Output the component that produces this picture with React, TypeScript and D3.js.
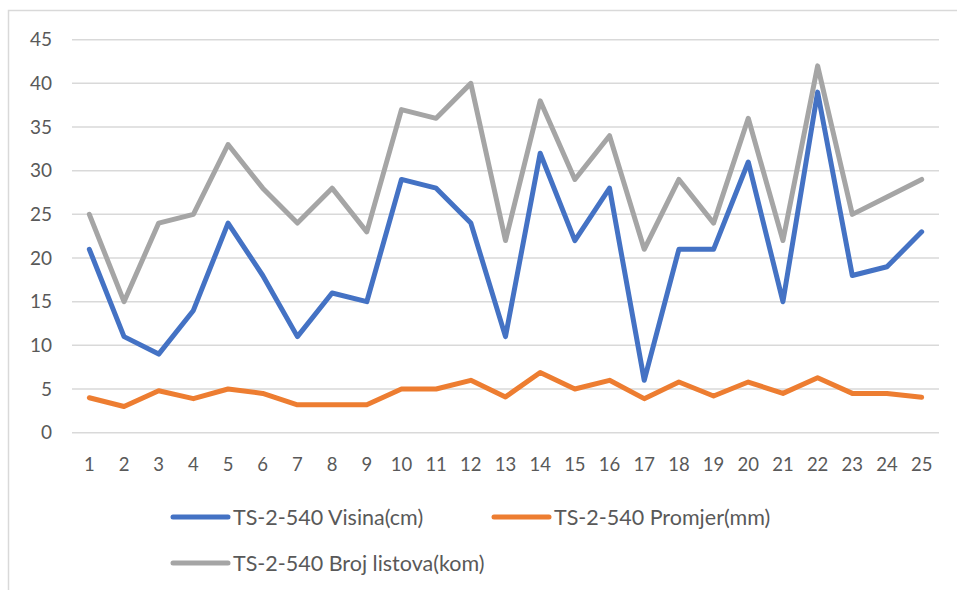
import { useEffect, useRef } from "react"
import * as d3 from "d3"

const categories = Array.from({ length: 25 }, (_, i) => String(i + 1))

const visina = [21, 11, 9, 14, 24, 18, 11, 16, 15, 29, 28, 24, 11, 32, 22, 28, 6, 21, 21, 31, 15, 39, 18, 19, 23]
const promjer = [4, 3, 4.8, 3.9, 5, 4.5, 3.2, 3.2, 3.2, 5, 5, 6, 4.1, 6.9, 5, 6, 3.9, 5.8, 4.2, 5.8, 4.5, 6.3, 4.5, 4.5, 4.05]
const brojListova = [25, 15, 24, 25, 33, 28, 24, 28, 23, 37, 36, 40, 22, 38, 29, 34, 21, 29, 24, 36, 22, 42, 25, 27, 29]

const yTicks = [0, 5, 10, 15, 20, 25, 30, 35, 40, 45]

const series = [
  { name: "TS-2-540 Visina(cm)", values: visina, color: "#4472c4" },
  { name: "TS-2-540 Promjer(mm)", values: promjer, color: "#ed7d31" },
  { name: "TS-2-540 Broj listova(kom)", values: brojListova, color: "#a5a5a5" },
]

export default function App() {
  const svgRef = useRef<SVGSVGElement>(null)

  useEffect(() => {
    if (!svgRef.current) return
    const svg = d3.select(svgRef.current)
    svg.selectAll("*").remove()

    const font = "Lato, 'Open Sans', sans-serif"
    const left = 72
    const right = 939
    const top = 39.7
    const bottom = 432.7

    // outer chart border (cut off at right/bottom like the screenshot)
    svg
      .append("rect")
      .attr("x", 8.5)
      .attr("y", 10.5)
      .attr("width", 1000)
      .attr("height", 1000)
      .attr("fill", "white")
      .attr("stroke", "#d9d9d9")
      .attr("stroke-width", 1.5)

    const x = d3.scaleBand().domain(categories).range([left, right])
    const y = d3.scaleLinear().domain([0, 45]).range([bottom, top])
    const cx = (c: string) => (x(c) || 0) + x.bandwidth() / 2

    // gridlines
    svg
      .append("g")
      .selectAll("line")
      .data(yTicks)
      .join("line")
      .attr("x1", left)
      .attr("x2", right)
      .attr("y1", (d) => y(d))
      .attr("y2", (d) => y(d))
      .attr("stroke", "#d9d9d9")
      .attr("stroke-width", 1.5)

    // y tick labels
    svg
      .append("g")
      .selectAll("text")
      .data(yTicks)
      .join("text")
      .attr("x", 52)
      .attr("y", (d) => y(d))
      .attr("dy", "0.35em")
      .attr("text-anchor", "end")
      .attr("font-family", font)
      .attr("font-size", 19)
      .attr("fill", "#595959")
      .text((d) => d)

    // x tick labels
    svg
      .append("g")
      .selectAll("text")
      .data(categories)
      .join("text")
      .attr("x", (d) => cx(d))
      .attr("y", 465)
      .attr("dy", "0.35em")
      .attr("text-anchor", "middle")
      .attr("font-family", font)
      .attr("font-size", 18.5)
      .attr("fill", "#595959")
      .text((d) => d)

    // lines, in series order
    const line = d3
      .line<number>()
      .x((_, i) => cx(categories[i]))
      .y((d) => y(d))

    series.forEach((s) => {
      svg
        .append("path")
        .datum(s.values)
        .attr("d", line)
        .attr("fill", "none")
        .attr("stroke", s.color)
        .attr("stroke-width", 5)
        .attr("stroke-linejoin", "round")
        .attr("stroke-linecap", "round")
    })

    // legend
    const legendPos = [
      { x: 173, y: 517 },
      { x: 494, y: 517 },
      { x: 173, y: 563 },
    ]
    series.forEach((s, i) => {
      const p = legendPos[i]
      const g = svg.append("g").attr("transform", `translate(${p.x}, ${p.y})`)
      g.append("line")
        .attr("x1", 0)
        .attr("x2", 55)
        .attr("stroke", s.color)
        .attr("stroke-width", 5)
        .attr("stroke-linecap", "round")
      g.append("text")
        .attr("x", 60)
        .attr("dy", "0.35em")
        .attr("font-family", font)
        .attr("font-size", 21.5)
        .attr("fill", "#595959")
        .text(s.name)
    })
  }, [])

  return (
    <div style={{ position: "fixed", left: 0, top: 0 }}>
      <svg ref={svgRef} width={957} height={590} style={{ display: "block" }}></svg>
    </div>
  )
}
